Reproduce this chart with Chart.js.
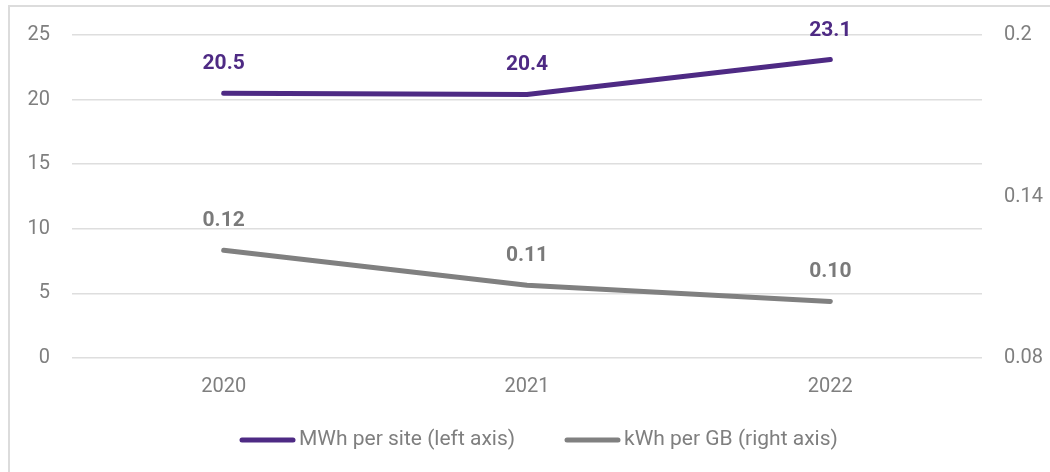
<!DOCTYPE html>
<html>
<head>
<meta charset="utf-8">
<script src="https://cdn.jsdelivr.net/npm/chart.js@4/dist/chart.umd.min.js"></script>
<style>
  html, body { margin: 0; padding: 0; background: #ffffff; }
  #wrap { position: relative; width: 1050px; height: 472px; }
</style>
</head>
<body>
<div id="wrap"><canvas id="c" width="1050" height="472"></canvas></div>
<script>
const categories = ['2020', '2021', '2022'];
const mwhPerSite = [20.5, 20.4, 23.1];
const kwhPerGB = [0.12, 0.107, 0.101];
const leftTicks = [0, 5, 10, 15, 20, 25];
const rightTicks = [0.08, 0.14, 0.2];
const seriesNames = ['MWh per site (left axis)', 'kWh per GB (right axis)'];

const PURPLE = '#4e2a84';
const GREY = '#808080';
const TICK = '#7f7f7f';
const FONT = 'Roboto, "Noto Sans", sans-serif';

const labelPlugin = {
  id: 'valueLabels',
  afterDatasetsDraw(chart) {
    const ctx = chart.ctx;
    ctx.save();
    ctx.font = 'bold 21px ' + FONT;
    ctx.textAlign = 'center';
    ctx.textBaseline = 'alphabetic';
    chart.data.datasets.forEach((ds, i) => {
      const meta = chart.getDatasetMeta(i);
      ctx.fillStyle = ds.labelColor;
      meta.data.forEach((pt, j) => {
        const txt = ds.data[j].toFixed(ds.decimals);
        ctx.fillText(txt, pt.x, pt.y - 24);
      });
    });
    ctx.restore();
  }
};

const framePlugin = {
  id: 'frame',
  beforeDraw(chart) {
    const ctx = chart.ctx;
    ctx.save();
    ctx.strokeStyle = '#dcdcdc';
    ctx.lineWidth = 2;
    ctx.beginPath();
    ctx.moveTo(9, 472);
    ctx.lineTo(9, 6);
    ctx.lineTo(1050, 6);
    ctx.stroke();
    ctx.restore();
  },
  afterDraw(chart) {
    const ctx = chart.ctx;
    ctx.save();
    ctx.font = '21px ' + FONT;
    ctx.textBaseline = 'middle';
    ctx.textAlign = 'left';
    const y = 440;
    const items = [
      { x: 242, color: PURPLE, text: seriesNames[0] },
      { x: 567, color: GREY, text: seriesNames[1] }
    ];
    items.forEach(it => {
      ctx.strokeStyle = it.color;
      ctx.lineWidth = 5;
      ctx.lineCap = 'round';
      ctx.beginPath();
      ctx.moveTo(it.x, y);
      ctx.lineTo(it.x + 51, y);
      ctx.stroke();
      ctx.fillStyle = TICK;
      ctx.fillText(it.text, it.x + 57, y);
    });
    ctx.restore();
  }
};

new Chart(document.getElementById('c'), {
  type: 'line',
  data: {
    labels: categories,
    datasets: [
      {
        label: seriesNames[0],
        data: mwhPerSite,
        yAxisID: 'y',
        borderColor: PURPLE,
        backgroundColor: PURPLE,
        labelColor: PURPLE,
        decimals: 1,
        borderWidth: 5,
        borderCapStyle: 'round',
        borderJoinStyle: 'round',
        pointRadius: 0,
        tension: 0
      },
      {
        label: seriesNames[1],
        data: kwhPerGB,
        yAxisID: 'y1',
        borderColor: GREY,
        backgroundColor: GREY,
        labelColor: '#7a7a7a',
        decimals: 2,
        borderWidth: 5,
        borderCapStyle: 'round',
        borderJoinStyle: 'round',
        pointRadius: 0,
        tension: 0
      }
    ]
  },
  options: {
    responsive: false,
    animation: false,
    layout: { padding: { top: 35, left: 0, right: 0, bottom: 0 } },
    plugins: { legend: { display: false }, tooltip: { enabled: false } },
    scales: {
      x: {
        offset: true,
        grid: { display: false, drawTicks: false },
        border: { display: false },
        ticks: { color: TICK, font: { family: FONT, size: 20 }, padding: 17 },
        afterFit(s) { s.height = 114; }
      },
      y: {
        position: 'left',
        min: 0, max: 25,
        afterBuildTicks(s) { s.ticks = leftTicks.map(v => ({ value: v })); },
        grid: { color: '#dedede', lineWidth: 1.5, drawTicks: false },
        border: { display: false },
        ticks: { color: TICK, font: { family: FONT, size: 20 }, padding: 22 },
        afterFit(s) { s.width = 72; }
      },
      y1: {
        position: 'right',
        min: 0.08, max: 0.2,
        afterBuildTicks(s) { s.ticks = rightTicks.map(v => ({ value: v })); },
        grid: { display: false, drawTicks: false },
        border: { display: false },
        ticks: { color: TICK, font: { family: FONT, size: 20 }, padding: 22,
                 callback: v => String(+v.toFixed(2)) },
        afterFit(s) { s.width = 68; }
      }
    }
  },
  plugins: [labelPlugin, framePlugin]
});
</script>
</body>
</html>
